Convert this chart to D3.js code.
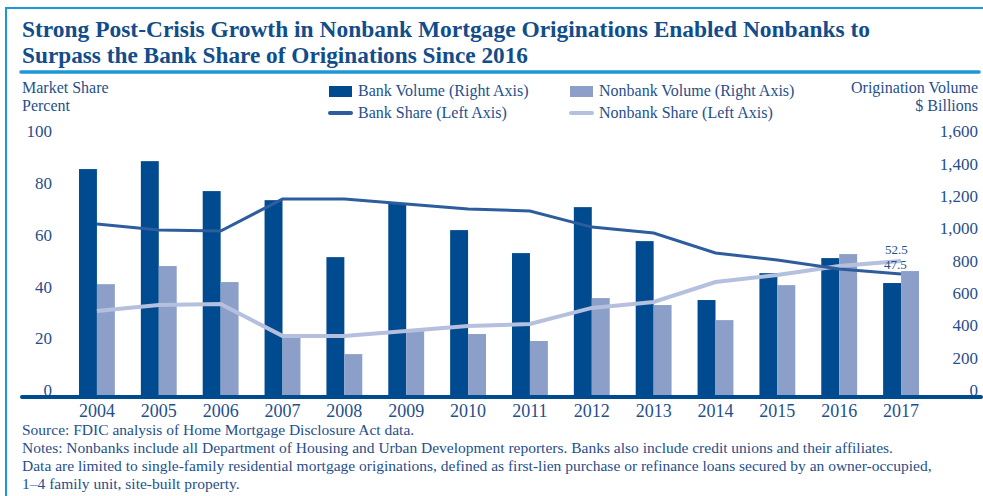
<!DOCTYPE html>
<html>
<head>
<meta charset="utf-8">
<script src="https://cdn.jsdelivr.net/npm/d3@7"></script>
<style>
  body { margin: 0; background: #fff; }
  text { font-family: "Liberation Serif", "DejaVu Serif", serif; fill: #1f4f8c; }
</style>
</head>
<body>
<div id="chart"></div>
<script>
/**
 * DATA
 * */
const years = ["2004", "2005", "2006", "2007", "2008", "2009", "2010",
  "2011", "2012", "2013", "2014", "2015", "2016", "2017"];
// $ billions (right axis)
const bankVolume = [1408, 1457, 1272, 1216, 864, 1198, 1031, 889, 1173, 963, 599, 765, 858, 704];
const nonbankVolume = [697, 809, 710, 368, 265, 414, 389, 346, 611, 568, 475, 691, 883, 778];
// percent (left axis)
const bankShare = [66.8, 64.5, 64.1, 76.4, 76.4, 74.5, 72.6, 71.8, 65.6, 63.3, 55.6, 52.9, 49.4, 47.5];
const nonbankShare = [33.2, 35.5, 35.9, 23.6, 23.6, 25.5, 27.4, 28.2, 34.4, 36.7, 44.4, 47.1, 50.6, 52.5];
const leftTicks = [0, 20, 40, 60, 80, 100];
const rightTicks = [0, 200, 400, 600, 800, 1000, 1200, 1400, 1600];

/**
 * CONSTANTS
 * */
const width = 983,
  height = 496,
  baseY = 397,
  topY = 138;
const darkBlue = "#004a8f",
  lightBar = "#8c9fc8",
  bankLineColor = "#2d5d9d",
  nonbankLineColor = "#b4c0dd",
  frameBlue = "#1c98d6",
  textBlue = "#1f4f8c";

const svg = d3.select("#chart").append("svg")
  .attr("width", width)
  .attr("height", height);

// frame
svg.append("line")
  .attr("x1", 5).attr("x2", width).attr("y1", 8).attr("y2", 8)
  .attr("stroke", frameBlue).attr("stroke-width", 2);
svg.append("line")
  .attr("x1", 6).attr("x2", 6).attr("y1", 7).attr("y2", height)
  .attr("stroke", frameBlue).attr("stroke-width", 2);

// title
const titleLines = [
  { t: "Strong Post-Crisis Growth in Nonbank Mortgage Originations Enabled Nonbanks to", y: 37, w: 848 },
  { t: "Surpass the Bank Share of Originations Since 2016", y: 63, w: 506 }
];
svg.selectAll(".title")
  .data(titleLines)
  .join("text")
  .attr("class", "title")
  .attr("x", 22)
  .attr("y", d => d.y)
  .attr("textLength", d => d.w)
  .attr("lengthAdjust", "spacingAndGlyphs")
  .style("font-size", "23px")
  .style("font-weight", "bold")
  .style("fill", "#124d8b")
  .text(d => d.t);

svg.append("line")
  .attr("x1", 21).attr("x2", 979).attr("y1", 72).attr("y2", 72)
  .attr("stroke", frameBlue).attr("stroke-width", 3.5)
  .attr("stroke-linecap", "round");

// SCALES
const xScale = d3.scaleBand()
  .domain(years)
  .range([66, 932])
  .paddingInner(0.42)
  .paddingOuter(0.21);

const xSub = d3.scaleBand()
  .domain(["bank", "nonbank"])
  .range([0, xScale.bandwidth()]);

const yLeft = d3.scaleLinear().domain([0, 100]).range([baseY, topY]);
const yRight = d3.scaleLinear().domain([0, 1600]).range([baseY, topY]);

// axis titles
const axisTitles = [
  { t: "Market Share", x: 22, y: 93, a: "start" },
  { t: "Percent", x: 22, y: 111, a: "start" },
  { t: "Origination Volume", x: 978, y: 93, a: "end" },
  { t: "$ Billions", x: 978, y: 111, a: "end" }
];
svg.selectAll(".axis-title")
  .data(axisTitles)
  .join("text")
  .attr("class", "axis-title")
  .attr("x", d => d.x)
  .attr("y", d => d.y)
  .attr("text-anchor", d => d.a)
  .style("font-size", "16px")
  .text(d => d.t);

// AXES
const leftAxis = svg.append("g")
  .attr("transform", "translate(52,0)")
  .call(d3.axisLeft(yLeft).tickValues(leftTicks).tickSize(0).tickPadding(0));

const rightAxis = svg.append("g")
  .attr("transform", "translate(978,0)")
  .call(d3.axisLeft(yRight).tickValues(rightTicks).tickSize(0).tickPadding(0)
    .tickFormat(d3.format(",")));

[leftAxis, rightAxis].forEach(g => {
  g.select(".domain").remove();
  g.selectAll("text")
    .attr("dy", "-0.08em")
    .style("font-size", "17px")
    .style("font-family", "'Liberation Serif', serif")
    .attr("fill", textBlue);
});

// BARS
const groups = svg.selectAll(".year")
  .data(years.map((y, i) => ({ year: y, bank: bankVolume[i], nonbank: nonbankVolume[i] })))
  .join("g")
  .attr("class", "year")
  .attr("transform", d => `translate(${xScale(d.year)},0)`);

groups.append("rect")
  .attr("x", xSub("bank"))
  .attr("width", xSub.bandwidth())
  .attr("y", d => yRight(d.bank))
  .attr("height", d => baseY - yRight(d.bank))
  .attr("fill", darkBlue);

groups.append("rect")
  .attr("x", xSub("nonbank"))
  .attr("width", xSub.bandwidth())
  .attr("y", d => yRight(d.nonbank))
  .attr("height", d => baseY - yRight(d.nonbank))
  .attr("fill", lightBar);

// baseline
svg.append("line")
  .attr("x1", 22).attr("x2", 981).attr("y1", baseY).attr("y2", baseY)
  .attr("stroke", darkBlue).attr("stroke-width", 4)
  .attr("stroke-linecap", "round");

// x axis labels
const xAxis = svg.append("g")
  .attr("transform", `translate(0,${baseY + 5})`)
  .call(d3.axisBottom(xScale).tickSize(0).tickPadding(0));
xAxis.select(".domain").remove();
xAxis.selectAll("text")
  .attr("dy", "0.85em")
  .style("font-size", "18px")
  .style("font-family", "'Liberation Serif', serif")
  .attr("fill", textBlue);

// LINES
const cx = d => xScale(d) + xScale.bandwidth() / 2;

const lineGen = d3.line()
  .x(d => cx(d.year))
  .y(d => yLeft(d.v));

svg.append("path")
  .datum(years.map((y, i) => ({ year: y, v: nonbankShare[i] })))
  .attr("d", lineGen)
  .attr("fill", "none")
  .attr("stroke", nonbankLineColor)
  .attr("stroke-width", 4);

svg.append("path")
  .datum(years.map((y, i) => ({ year: y, v: bankShare[i] })))
  .attr("d", lineGen)
  .attr("fill", "none")
  .attr("stroke", bankLineColor)
  .attr("stroke-width", 3);

// end labels
const last = years.length - 1;
svg.append("text")
  .attr("x", cx(years[last]) - 16)
  .attr("y", yLeft(nonbankShare[last]) - 7)
  .style("font-size", "13px")
  .text(nonbankShare[last].toFixed(1));
svg.append("text")
  .attr("x", cx(years[last]) - 17)
  .attr("y", yLeft(bankShare[last]) - 5)
  .style("font-size", "13px")
  .text(bankShare[last].toFixed(1));

// LEGEND
const legend = [
  { t: "Bank Volume (Right Axis)", x: 329, y: 91, type: "rect", c: darkBlue },
  { t: "Nonbank Volume (Right Axis)", x: 570, y: 91, type: "rect", c: lightBar },
  { t: "Bank Share (Left Axis)", x: 329, y: 113, type: "line", c: bankLineColor },
  { t: "Nonbank Share (Left Axis)", x: 570, y: 113, type: "line", c: nonbankLineColor }
];
const lg = svg.selectAll(".legend")
  .data(legend)
  .join("g")
  .attr("class", "legend")
  .attr("transform", d => `translate(${d.x},${d.y})`);

lg.filter(d => d.type === "rect")
  .append("rect")
  .attr("x", 0).attr("y", -5)
  .attr("width", 23).attr("height", 11)
  .attr("fill", d => d.c);
lg.filter(d => d.type === "line")
  .append("line")
  .attr("x1", 1).attr("x2", 22).attr("y1", 0).attr("y2", 0)
  .attr("stroke", d => d.c).attr("stroke-width", 4)
  .attr("stroke-linecap", "round");
lg.append("text")
  .attr("x", 29)
  .attr("y", 5)
  .style("font-size", "16px")
  .text(d => d.t);

// SOURCE / NOTES
const notes = [
  "Source: FDIC analysis of Home Mortgage Disclosure Act data.",
  "Notes: Nonbanks include all Department of Housing and Urban Development reporters. Banks also include credit unions and their affiliates.",
  "Data are limited to single-family residential mortgage originations, defined as first-lien purchase or refinance loans secured by an owner-occupied,",
  "1–4 family unit, site-built property."
];
svg.selectAll(".note")
  .data(notes)
  .join("text")
  .attr("class", "note")
  .attr("x", 22)
  .attr("y", (d, i) => 435 + i * 18)
  .style("font-size", "15.5px")
  .text(d => d);
</script>
</body>
</html>
